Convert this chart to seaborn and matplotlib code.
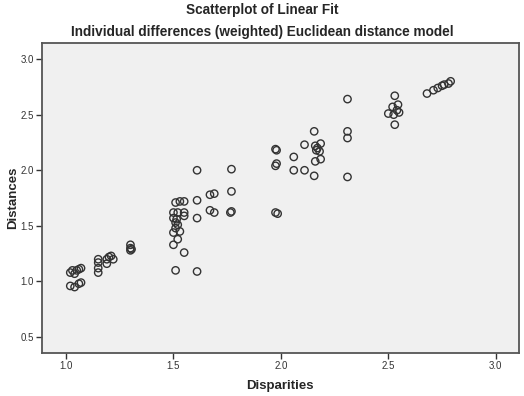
import matplotlib
matplotlib.use('Agg')
import matplotlib.pyplot as plt
import seaborn as sns
import pandas as pd

# Data (disparity, distance)
disparities = [
    1.02, 1.03, 1.04, 1.05, 1.06, 1.07, 1.02, 1.04, 1.06, 1.07,
    1.15, 1.15, 1.15, 1.15,
    1.19, 1.19, 1.20, 1.21, 1.22,
    1.30, 1.30, 1.30, 1.305,
    1.51, 1.53, 1.55, 1.50, 1.52, 1.55, 1.55, 1.50, 1.515, 1.51,
    1.52, 1.51, 1.50, 1.53, 1.52, 1.50, 1.55, 1.51,
    1.61, 1.61, 1.61, 1.61,
    1.67, 1.69, 1.67, 1.69,
    1.77, 1.77, 1.77, 1.765,
    1.975, 1.98, 1.975, 1.98, 1.975, 1.985,
    2.06, 2.06, 2.11, 2.11,
    2.155, 2.16, 2.17, 2.185, 2.165, 2.18, 2.185, 2.16, 2.155,
    2.31, 2.31, 2.31, 2.31,
    2.53, 2.545, 2.52, 2.50, 2.525, 2.54, 2.55, 2.53,
    2.68, 2.71, 2.73, 2.75, 2.76, 2.78, 2.79,
]
distances = [
    1.08, 1.10, 1.07, 1.10, 1.11, 1.12, 0.96, 0.95, 0.98, 0.99,
    1.20, 1.17, 1.12, 1.08,
    1.20, 1.16, 1.22, 1.23, 1.20,
    1.33, 1.30, 1.28, 1.29,
    1.71, 1.72, 1.72, 1.62, 1.62, 1.62, 1.59, 1.57, 1.56, 1.53,
    1.51, 1.48, 1.44, 1.45, 1.38, 1.33, 1.26, 1.10,
    2.00, 1.73, 1.57, 1.09,
    1.78, 1.79, 1.64, 1.62,
    2.01, 1.81, 1.63, 1.62,
    2.19, 2.18, 2.04, 2.06, 1.62, 1.61,
    2.12, 2.00, 2.23, 2.00,
    2.35, 2.22, 2.20, 2.24, 2.18, 2.17, 2.10, 2.08, 1.95,
    2.64, 2.35, 2.29, 1.94,
    2.67, 2.59, 2.57, 2.51, 2.50, 2.54, 2.52, 2.41,
    2.69, 2.72, 2.74, 2.76, 2.77, 2.78, 2.80,
]
x_ticks = [1.0, 1.5, 2.0, 2.5, 3.0]
y_ticks = [0.5, 1.0, 1.5, 2.0, 2.5, 3.0]

df = pd.DataFrame({'Disparities': disparities, 'Distances': distances})

sns.set_theme(style="white")
plt.rcParams['font.family'] = ['Liberation Sans', 'DejaVu Sans']

fig = plt.figure(figsize=(5.24, 3.96), dpi=100)
ax = fig.add_axes([0.080, 0.1086, 0.910, 0.7824])
ax.set_facecolor('#f0f0f0')

sns.scatterplot(data=df, x='Disparities', y='Distances', ax=ax,
                s=28, facecolor='none', edgecolor='#333333', linewidth=1.0)

ax.set_xlim(0.888, 3.107)
ax.set_ylim(0.357, 3.143)
ax.set_xticks(x_ticks)
ax.set_yticks(y_ticks)
ax.set_xticklabels([f'{t:.1f}' for t in x_ticks])
ax.set_yticklabels([f'{t:.1f}' for t in y_ticks])
ax.tick_params(axis='both', direction='out', length=4, width=1,
               color='#333333', labelsize=7, labelcolor='#333333', pad=2,
               bottom=True, left=True)
for sp in ax.spines.values():
    sp.set_color('#555555')
    sp.set_linewidth(1.3)

ax.set_xlabel('Disparities', fontsize=9.5, fontweight='bold', labelpad=6)
ax.set_ylabel('Distances', fontsize=9.5, fontweight='bold', labelpad=1)

fig.text(0.5, 0.975, 'Scatterplot of Linear Fit', ha='center', va='center',
         fontsize=9.8, fontweight='bold')
fig.text(0.5, 0.918, 'Individual differences (weighted) Euclidean distance model',
         ha='center', va='center', fontsize=9.8, fontweight='bold')

fig.savefig('out.png', dpi=100)
plt.close(fig)
